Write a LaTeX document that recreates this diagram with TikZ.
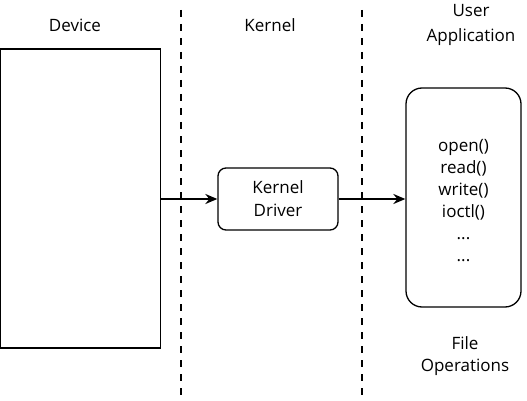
\documentclass[tikz,border=0pt]{standalone}
\usepackage{fontspec}
\setmainfont{Open Sans}
\usetikzlibrary{arrows.meta}
\begin{document}
\begin{tikzpicture}[x=1pt,y=-1pt,
  lbl/.style={font=\fontsize{17}{23}\selectfont, align=center, inner sep=0pt},
  box/.style={draw=black, line width=1.3pt, inner sep=0pt},
  sep/.style={line width=2.4pt, dash pattern=on 7pt off 7pt},
  conn/.style={line width=2pt, -{Stealth[length=12pt,width=10pt]}}]
\useasboundingbox (0,0) rectangle (527,401);
\node[box, minimum width=160pt, minimum height=299pt] (dev) at (80.8,198.5) {};
\node[box, rounded corners=8pt, minimum width=120pt, minimum height=62pt, lbl] (drv) at (278,199) {Kernel\\Driver};
\node[box, rounded corners=16pt, minimum width=115pt, minimum height=219pt] (app) at (463.5,197.5) {};
\node[lbl, font=\fontsize{17}{22}\selectfont] (ops) at (463.5,201) {open()\\read()\\write()\\ioctl()\\...\\...};
\node[lbl] (tdev) at (75,25) {Device};
\node[lbl] (tker) at (270,25) {Kernel};
\node[lbl, font=\fontsize{17}{25}\selectfont] (tusr) at (471,25) {User\\Application};
\node[lbl, font=\fontsize{17}{22}\selectfont] (tfop) at (465,356) {File\\Operations};
\coordinate (s1a) at (181,10);
\coordinate (s1b) at (181,401);
\coordinate (s2a) at (362,10);
\coordinate (s2b) at (362,401);
\draw[sep] (s1a) -- (s1b);
\draw[sep] (s2a) -- (s2b);
\draw[conn] (dev.east |- drv.west) -- (drv.west);
\draw[conn] (drv.east) -- (app.west |- drv.east);
\end{tikzpicture}
\end{document}
